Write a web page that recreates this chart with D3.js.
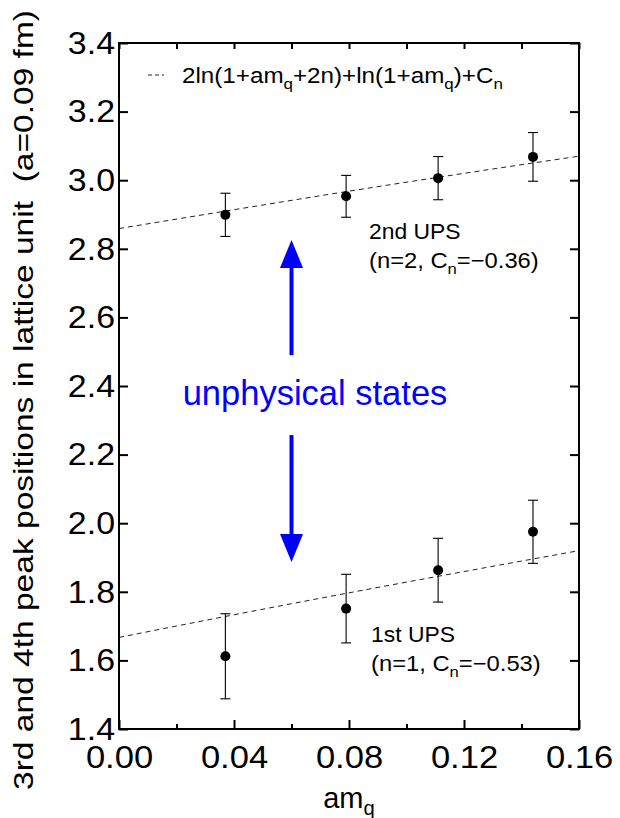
<!DOCTYPE html>
<html>
<head>
<meta charset="utf-8">
<script src="https://cdn.jsdelivr.net/npm/d3@7"></script>
<style>
  body { margin: 0; background: #fff; }
  text { font-family: "Liberation Sans", Arial, Helvetica, sans-serif; fill: #000; }
</style>
</head>
<body>
<svg width="620" height="818"></svg>
<script>
// values
const amq = [0.037, 0.079, 0.111, 0.144];
const ups2 = [2.899, 2.953, 3.006, 3.068];
const ups2Err = [0.063, 0.061, 0.063, 0.071];
const ups1 = [1.612, 1.751, 1.863, 1.975];
const ups1Err = [0.124, 0.100, 0.093, 0.092];

// dashed fit curves, read at a few x positions
const fitX = [0, 0.04, 0.08, 0.12, 0.16];
const fit2 = [2.859, 2.914, 2.968, 3.020, 3.070];
const fit1 = [1.667, 1.733, 1.797, 1.859, 1.920];

const xTicks = [0, 0.04, 0.08, 0.12, 0.16];
const xMinor = [0.02, 0.06, 0.10, 0.14];
const yTicks = [1.4, 1.6, 1.8, 2.0, 2.2, 2.4, 2.6, 2.8, 3.0, 3.2, 3.4];

// blue arrows: x position, [start, tip] in y units
const arrowX = 0.06;
const arrowUp = [2.49, 2.826];
const arrowDown = [2.257, 1.887];

const svg = d3.select("svg");
const pL = 119, pR = 579, pT = 43, pB = 729;

const x = d3.scaleLinear().domain([0, 0.16]).range([pL, pR]);
const y = d3.scaleLinear().domain([1.4, 3.4]).range([pB, pT]);

// stretch text horizontally like the reference
function stretch(sel, f) {
  sel.each(function() {
    const w = this.getComputedTextLength();
    d3.select(this).attr("textLength", w * f).attr("lengthAdjust", "spacingAndGlyphs");
  });
}

// axes
const ax = svg.append("g");
const gl = ax.append("g").attr("transform", `translate(${pL},0)`)
  .call(d3.axisLeft(y).tickValues(yTicks).tickSize(-9).tickPadding(4).tickFormat(d3.format(".1f")));
const gb = ax.append("g").attr("transform", `translate(0,${pB})`)
  .call(d3.axisBottom(x).tickValues(xTicks).tickSize(-9).tickPadding(16).tickFormat(d3.format(".2f")));
ax.append("g").attr("transform", `translate(0,${pB})`)
  .call(d3.axisBottom(x).tickValues(xMinor).tickSize(-5).tickFormat(""));
ax.append("g").attr("transform", `translate(0,${pT})`)
  .call(d3.axisTop(x).tickValues(xTicks.concat(xMinor)).tickSize(-6).tickFormat(""));
ax.append("g").attr("transform", `translate(${pR},0)`)
  .call(d3.axisRight(y).tickValues(yTicks).tickSize(-9).tickFormat(""));
ax.selectAll(".domain").remove();
ax.selectAll(".tick line").attr("stroke", "#000").attr("stroke-width", 2);
ax.selectAll(".tick text").attr("font-size", 32).attr("fill", "#000");
stretch(gl.selectAll(".tick text"), 1.06);
stretch(gb.selectAll(".tick text"), 1.08);

svg.append("rect")
  .attr("x", pL).attr("y", pT)
  .attr("width", pR - pL).attr("height", pB - pT)
  .attr("fill", "none").attr("stroke", "#000").attr("stroke-width", 2);

// fit curves
const line = d3.line().x(d => x(d[0])).y(d => y(d[1])).curve(d3.curveMonotoneX);
[fit2, fit1].forEach(f => {
  svg.append("path")
    .datum(fitX.map((v, i) => [v, f[i]]))
    .attr("d", line)
    .attr("fill", "none")
    .attr("stroke", "#222")
    .attr("stroke-width", 1)
    .attr("stroke-dasharray", "5,4");
});

// error bars and points
function series(vals, errs) {
  const data = amq.map((m, i) => ({ m: m, v: vals[i], e: errs[i] }));
  const g = svg.append("g").attr("stroke", "#000").attr("stroke-width", 1.1);
  g.selectAll(".bar").data(data).enter().append("line")
    .attr("x1", d => x(d.m)).attr("x2", d => x(d.m))
    .attr("y1", d => y(d.v - d.e)).attr("y2", d => y(d.v + d.e));
  g.selectAll(".capT").data(data).enter().append("line")
    .attr("x1", d => x(d.m) - 5).attr("x2", d => x(d.m) + 5)
    .attr("y1", d => y(d.v + d.e)).attr("y2", d => y(d.v + d.e));
  g.selectAll(".capB").data(data).enter().append("line")
    .attr("x1", d => x(d.m) - 5).attr("x2", d => x(d.m) + 5)
    .attr("y1", d => y(d.v - d.e)).attr("y2", d => y(d.v - d.e));
  svg.append("g").selectAll("circle").data(data).enter().append("circle")
    .attr("cx", d => x(d.m)).attr("cy", d => y(d.v)).attr("r", 5).attr("fill", "#000");
}
series(ups2, ups2Err);
series(ups1, ups1Err);

// text with subscripts: parts = [[text, isSub], ...]
function rich(px, py, size, parts) {
  const t = svg.append("text").attr("x", px).attr("y", py).attr("font-size", size);
  let down = false;
  parts.forEach(p => {
    const s = t.append("tspan").text(p[0]);
    if (p[1]) {
      s.attr("font-size", size * 0.7).attr("dy", size * 0.25);
      down = true;
    } else if (down) {
      s.attr("dy", -size * 0.25);
      down = false;
    }
  });
  return t;
}

// legend
svg.append("line")
  .attr("x1", 148).attr("x2", 164).attr("y1", 75).attr("y2", 75)
  .attr("stroke", "#222").attr("stroke-width", 1).attr("stroke-dasharray", "4,3");
stretch(rich(182, 83, 22, [["2ln(1+am", 0], ["q", 1], ["+2n)+ln(1+am", 0], ["q", 1], [")+C", 0], ["n", 1]]), 1.1);

// annotations
stretch(svg.append("text").attr("x", 369).attr("y", 239).attr("font-size", 22).text("2nd UPS"), 1.04);
stretch(rich(369, 268, 22, [["(n=2, C", 0], ["n", 1], ["=\u22120.36)", 0]]), 1.08);
stretch(svg.append("text").attr("x", 371).attr("y", 642).attr("font-size", 22).text("1st UPS"), 1.04);
stretch(rich(371, 671, 22, [["(n=1, C", 0], ["n", 1], ["=\u22120.53)", 0]]), 1.08);

// arrows
function arrow(from, to) {
  const xa = x(arrowX), y0 = y(from), y1 = y(to);
  const dir = y1 < y0 ? 1 : -1;
  const base = y1 + dir * 28;
  svg.append("line").attr("x1", xa).attr("x2", xa).attr("y1", y0).attr("y2", base)
    .attr("stroke", "#0000ff").attr("stroke-width", 4);
  svg.append("path")
    .attr("d", `M${xa},${y1}L${xa - 11.5},${base}L${xa + 11.5},${base}Z`)
    .attr("fill", "#0000ff");
}
arrow(arrowUp[0], arrowUp[1]);
arrow(arrowDown[0], arrowDown[1]);

svg.append("text").attr("x", 315).attr("y", 405).attr("text-anchor", "middle")
  .attr("font-size", 34.5).style("fill", "#0000ff").text("unphysical states");

// axis titles
const yt = svg.append("text")
  .attr("transform", "translate(33,400) rotate(-90)")
  .attr("text-anchor", "middle").attr("font-size", 28)
  .text("3rd and 4th peak positions in lattice unit\u00a0\u00a0(a=0.09 fm)");
yt.attr("textLength", 780).attr("lengthAdjust", "spacingAndGlyphs");

const xt = rich(0, 808, 29, [["am", 0], ["q", 1]]);
xt.attr("x", 349 - xt.node().getComputedTextLength() / 2);
</script>
</body>
</html>
